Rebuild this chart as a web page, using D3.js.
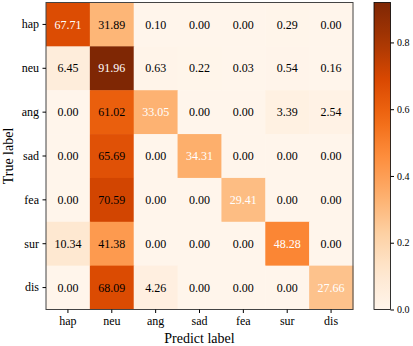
<!DOCTYPE html>
<html>
<head>
<meta charset="utf-8">
<script src="https://cdn.jsdelivr.net/npm/d3@7"></script>
<style>
  body { margin: 0; background: #fff; }
  svg text { font-family: "Liberation Serif", "DejaVu Serif", serif; }
</style>
</head>
<body>
<div id="chart"></div>
<script>
var labels = ["hap", "neu", "ang", "sad", "fea", "sur", "dis"];
var rowHap = [67.71, 31.89, 0.10, 0.00, 0.00, 0.29, 0.00];
var rowNeu = [6.45, 91.96, 0.63, 0.22, 0.03, 0.54, 0.16];
var rowAng = [0.00, 61.02, 33.05, 0.00, 0.00, 3.39, 2.54];
var rowSad = [0.00, 65.69, 0.00, 34.31, 0.00, 0.00, 0.00];
var rowFea = [0.00, 70.59, 0.00, 0.00, 29.41, 0.00, 0.00];
var rowSur = [10.34, 41.38, 0.00, 0.00, 0.00, 48.28, 0.00];
var rowDis = [0.00, 68.09, 4.26, 0.00, 0.00, 0.00, 27.66];
var colorTicks = [0.0, 0.2, 0.4, 0.6, 0.8];

var rows = [rowHap, rowNeu, rowAng, rowSad, rowFea, rowSur, rowDis];

var width = 413, height = 346;
var mLeft = 46, mTop = 2.5, size = 307;

// matplotlib "Oranges" (linear through the brewer stops)
var stops = ["#fff5eb","#fee6ce","#fdd0a2","#fdae6b","#fd8d3c","#f16913","#d94801","#a63603","#7f2704"];
var ramp = d3.scaleLinear()
    .domain(d3.range(stops.length).map(function(i) { return i / (stops.length - 1); }))
    .range(stops)
    .interpolate(d3.interpolateRgb);
var vmax = d3.max(rows, function(r) { return d3.max(r); }) / 100;
var color = function(v) { return ramp(Math.max(0, Math.min(1, v / vmax))); };

var svg = d3.select("#chart").append("svg")
    .attr("width", width)
    .attr("height", height);

var x = d3.scaleBand().domain(labels).range([mLeft, mLeft + size]);
var y = d3.scaleBand().domain(labels).range([mTop, mTop + size]);

var cells = [];
rows.forEach(function(r, i) {
  r.forEach(function(v, j) { cells.push({ t: labels[i], p: labels[j], v: v, diag: i === j }); });
});

svg.selectAll("rect.cell")
    .data(cells)
  .enter().append("rect")
    .attr("class", "cell")
    .attr("x", function(d) { return x(d.p); })
    .attr("y", function(d) { return y(d.t); })
    .attr("width", x.bandwidth() + 0.5)
    .attr("height", y.bandwidth() + 0.5)
    .attr("fill", function(d) { return color(d.v / 100); });

svg.selectAll("text.val")
    .data(cells)
  .enter().append("text")
    .attr("class", "val")
    .attr("x", function(d) { return x(d.p) + x.bandwidth() / 2; })
    .attr("y", function(d) { return y(d.t) + y.bandwidth() / 2; })
    .attr("dy", "0.35em")
    .attr("text-anchor", "middle")
    .attr("font-size", 12)
    .attr("fill", function(d) { return d.diag ? "#fff" : "#000"; })
    .text(function(d) { return d.v.toFixed(2); });

svg.append("rect")
    .attr("x", mLeft).attr("y", mTop)
    .attr("width", size).attr("height", size)
    .attr("fill", "none")
    .attr("stroke", "#444")
    .attr("stroke-width", 1);

var xAxis = svg.append("g")
    .attr("transform", "translate(0," + (mTop + size) + ")")
    .call(d3.axisBottom(x).tickSize(3.5).tickPadding(3.5));
var yAxis = svg.append("g")
    .attr("transform", "translate(" + mLeft + ",0)")
    .call(d3.axisLeft(y).tickSize(3.5).tickPadding(3.5));
[xAxis, yAxis].forEach(function(g) {
  g.select(".domain").remove();
  g.selectAll("text").attr("font-size", 12).attr("font-family", "Liberation Serif").attr("fill", "#000");
  g.selectAll("line").attr("stroke", "#000");
});

svg.append("text")
    .attr("x", mLeft + size / 2)
    .attr("y", 343)
    .attr("text-anchor", "middle")
    .attr("font-size", 14)
    .text("Predict label");

svg.append("text")
    .attr("transform", "translate(13," + (mTop + size / 2) + ") rotate(-90)")
    .attr("text-anchor", "middle")
    .attr("font-size", 14)
    .text("True label");

// colorbar
var cbX = 374, cbW = 16.5;
var cbScale = d3.scaleLinear().domain([0, vmax]).range([mTop + size, mTop]);
var defs = svg.append("defs");
var grad = defs.append("linearGradient")
    .attr("id", "cbgrad")
    .attr("x1", 0).attr("y1", 1).attr("x2", 0).attr("y2", 0);
d3.range(0, 1.0001, 0.05).forEach(function(t) {
  grad.append("stop").attr("offset", t).attr("stop-color", ramp(t));
});
svg.append("rect")
    .attr("x", cbX).attr("y", mTop)
    .attr("width", cbW).attr("height", size)
    .attr("fill", "url(#cbgrad)")
    .attr("stroke", "#000")
    .attr("stroke-width", 0.8);
var cbAxis = svg.append("g")
    .attr("transform", "translate(" + (cbX + cbW) + ",0)")
    .call(d3.axisRight(cbScale).tickValues(colorTicks).tickFormat(d3.format(".1f")).tickSize(3.5).tickPadding(3));
cbAxis.select(".domain").remove();
cbAxis.selectAll("text").attr("font-size", 10).attr("font-family", "Liberation Serif").attr("fill", "#000");
cbAxis.selectAll("line").attr("stroke", "#000");
</script>
</body>
</html>
